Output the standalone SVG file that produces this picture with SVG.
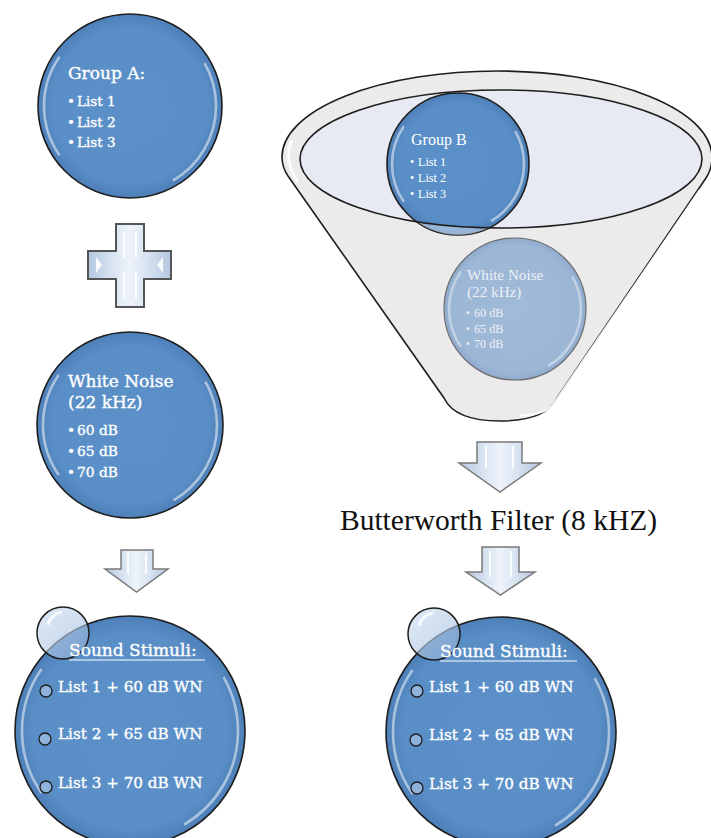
<svg xmlns="http://www.w3.org/2000/svg" width="711" height="838" viewBox="0 0 711 838">
<defs>
<style>
.ball{fill:url(#ballGrad);stroke:#1e1e1e;stroke-width:1.6}
.gloss{fill:none;stroke:#ffffff;stroke-opacity:0.5;stroke-width:2.6;stroke-dasharray:60 85 70 115 30 0;filter:url(#soft)}
.cam{font-family:"DejaVu Serif","Liberation Serif",serif;fill:#ffffff;stroke:#ffffff;stroke-width:0.35}
.tms{font-family:"Liberation Serif","Times New Roman",serif;fill:#ffffff}
.arrow{fill:url(#arrowGrad);stroke:#7a7a7a;stroke-width:1.5;stroke-linejoin:miter}
.hl{stroke:#ffffff;stroke-width:2;stroke-opacity:0.85;fill:none}
.bul{fill:#8fb3dc;stroke:#1e1e1e;stroke-width:1.3}
</style>
<radialGradient id="ballGrad" cx="0.5" cy="0.5" r="0.5">
<stop offset="0" stop-color="#5b90c8"/>
<stop offset="0.85" stop-color="#5a8ec6"/>
<stop offset="1" stop-color="#4d7fb8"/>
</radialGradient>
<radialGradient id="fadeGrad" cx="0.5" cy="0.5" r="0.5">
<stop offset="0" stop-color="#a0bad8"/>
<stop offset="0.9" stop-color="#9cb6d5"/>
<stop offset="1" stop-color="#8eaace"/>
</radialGradient>
<linearGradient id="arrowGrad" x1="0" y1="0" x2="1" y2="0">
<stop offset="0" stop-color="#b3c6df"/>
<stop offset="0.3" stop-color="#d9e4f2"/>
<stop offset="0.5" stop-color="#eef3fa"/>
<stop offset="0.7" stop-color="#d9e4f2"/>
<stop offset="1" stop-color="#b3c6df"/>
</linearGradient>
<linearGradient id="bubGrad" x1="0" y1="0" x2="1" y2="1">
<stop offset="0" stop-color="#dce8f5" stop-opacity="0.8"/>
<stop offset="1" stop-color="#8fb0d8" stop-opacity="0.5"/>
</linearGradient>
<filter id="soft" x="-10%" y="-10%" width="120%" height="120%">
<feGaussianBlur stdDeviation="0.7"/>
</filter>
<clipPath id="clipB"><circle cx="458" cy="164" r="71"/></clipPath>
</defs>
<rect width="711" height="838" fill="#ffffff"/>

<g id="group-a">
<circle class="ball" cx="130" cy="106" r="92"/>
<circle class="gloss" cx="130" cy="106" r="86" pathLength="360"/>
<text class="cam" x="68" y="79" font-size="17">Group A:</text>
<g class="cam" font-size="13.5">
<text x="67" y="106">•</text><text x="77" y="106">List 1</text>
<text x="67" y="127">•</text><text x="77" y="127">List 2</text>
<text x="67" y="147">•</text><text x="77" y="147">List 3</text>
</g>
</g>

<g id="plus">
<path d="M116,224 H144 V251 H171 V279 H144 V307 H116 V279 H88 V251 H116 Z" fill="url(#arrowGrad)" stroke="#555555" stroke-width="2"/>
<path class="hl" d="M124,232 V258 M136,232 V258 M124,272 V299 M136,272 V299"/>
<path d="M96,257 L102,265 L96,273 Z M163,257 L157,265 L163,273 Z" fill="#ffffff" opacity="0.9"/>
</g>

<g id="white-noise-a">
<circle class="ball" cx="130" cy="425" r="93"/>
<circle class="gloss" cx="130" cy="425" r="87" pathLength="360"/>
<text class="cam" x="68" y="387" font-size="17">White Noise</text>
<text class="cam" x="68" y="408" font-size="17">(22 kHz)</text>
<g class="cam" font-size="13.8">
<text x="67" y="435">•</text><text x="77" y="435">60 dB</text>
<text x="67" y="456">•</text><text x="77" y="456">65 dB</text>
<text x="67" y="477">•</text><text x="77" y="477">70 dB</text>
</g>
</g>

<g id="funnel">
<path d="M282,157 C282,165 284,170 288,176 L444,398 Q455,421 500,421 Q546,421 557,398 L706,178 C710,172 712,165 712,157 A215,86 0 0 0 282,157 Z" fill="#ebebeb" stroke="#1e1e1e" stroke-width="1.6"/>
<path d="M292,140 C286,152 288,168 298,182" fill="none" stroke="#ffffff" stroke-width="3" stroke-opacity="0.9" filter="url(#soft)"/>
<path d="M700,190 L553,405 Q545,414 520,416" fill="none" stroke="#ffffff" stroke-width="2.5" stroke-opacity="0.9" filter="url(#soft)"/>
<ellipse cx="501" cy="159" rx="201" ry="69" fill="#e8eaf3"/>
</g>

<g id="group-b">
<circle class="ball" cx="458" cy="164" r="71"/>
<circle class="gloss" cx="458" cy="164" r="66" pathLength="360"/>
<path d="M380,80 H540 V250 H380 Z M300,159 A201,69 0 1 0 702,159 A201,69 0 1 0 300,159 Z" fill="#ffffff" fill-opacity="0.4" fill-rule="evenodd" clip-path="url(#clipB)"/>
<text class="tms" x="411" y="145" font-size="16">Group B</text>
<g class="tms" font-size="12.2">
<text x="410" y="166">•</text><text x="418" y="166">List 1</text>
<text x="410" y="182">•</text><text x="418" y="182">List 2</text>
<text x="410" y="198">•</text><text x="418" y="198">List 3</text>
</g>
</g>
<ellipse cx="501" cy="159" rx="201" ry="69" fill="none" stroke="#1e1e1e" stroke-width="1.6"/>

<g id="white-noise-b">
<circle cx="515" cy="309" r="71" fill="url(#fadeGrad)" stroke="#6e6e6e" stroke-width="1.2"/>
<circle class="gloss" cx="515" cy="309" r="66" pathLength="360" style="stroke-opacity:0.4"/>
<g class="tms" style="fill:#eef1f6">
<text x="467" y="280" font-size="15.2">White Noise</text>
<text x="467" y="297" font-size="15.2">(22 kHz)</text>
<g font-size="12.2">
<text x="466" y="317">•</text><text x="474" y="317">60 dB</text>
<text x="466" y="333">•</text><text x="474" y="333">65 dB</text>
<text x="466" y="348">•</text><text x="474" y="348">70 dB</text>
</g>
</g>
</g>

<g id="butterworth-filter">
<text x="340" y="530" font-family="'Liberation Serif','Times New Roman',serif" font-size="29.5" fill="#111111">Butterworth Filter (8 kHZ)</text>
</g>

<g id="connectors">
<path class="arrow" d="M121,550 H153 V569 H168 L136.5,592 L105,569 H121 Z"/>
<path class="hl" d="M128,553 V574 M146,553 V574"/>
<path class="arrow" d="M477,442 H522 V463 H541 L500,492 L459,463 H477 Z"/>
<path class="hl" d="M486,446 V468 M513,446 V468"/>
<path class="arrow" d="M482,547 H519 V572 H535 L500.5,595 L466,572 H482 Z"/>
<path class="hl" d="M490,551 V577 M511,551 V577"/>
</g>

<g id="sound-stimuli-a">
<circle class="ball" cx="130" cy="731" r="115"/>
<circle class="gloss" cx="130" cy="731" r="108" pathLength="360"/>
<circle cx="63" cy="633" r="26" fill="url(#bubGrad)" stroke="#1e1e1e" stroke-width="1.5"/>
<path d="M48,625 A17,17 0 0 1 62,612" fill="none" stroke="#ffffff" stroke-width="3" stroke-opacity="0.8" filter="url(#soft)"/>
<text class="cam" x="69" y="656" font-size="17">Sound Stimuli:</text>
<line x1="69" y1="660" x2="205" y2="660" stroke="#ffffff" stroke-width="1.2"/>
<circle class="bul" cx="46" cy="691" r="6"/>
<circle class="bul" cx="45" cy="739" r="6"/>
<circle class="bul" cx="46" cy="787" r="6"/>
<g class="cam" font-size="15.2">
<text x="58" y="692">List 1 + 60 dB WN</text>
<text x="58" y="739">List 2 + 65 dB WN</text>
<text x="58" y="788">List 3 + 70 dB WN</text>
</g>
</g>

<g id="sound-stimuli-b">
<circle class="ball" cx="501" cy="732" r="115"/>
<circle class="gloss" cx="501" cy="732" r="108" pathLength="360"/>
<circle cx="434" cy="634" r="26" fill="url(#bubGrad)" stroke="#1e1e1e" stroke-width="1.5"/>
<path d="M419,626 A17,17 0 0 1 433,613" fill="none" stroke="#ffffff" stroke-width="3" stroke-opacity="0.8" filter="url(#soft)"/>
<text class="cam" x="440" y="657" font-size="17">Sound Stimuli:</text>
<line x1="440" y1="661" x2="577" y2="661" stroke="#ffffff" stroke-width="1.2"/>
<circle class="bul" cx="417" cy="691" r="6"/>
<circle class="bul" cx="416" cy="740" r="6"/>
<circle class="bul" cx="417" cy="788" r="6"/>
<g class="cam" font-size="15.2">
<text x="429" y="692">List 1 + 60 dB WN</text>
<text x="429" y="740">List 2 + 65 dB WN</text>
<text x="429" y="789">List 3 + 70 dB WN</text>
</g>
</g>
</svg>
